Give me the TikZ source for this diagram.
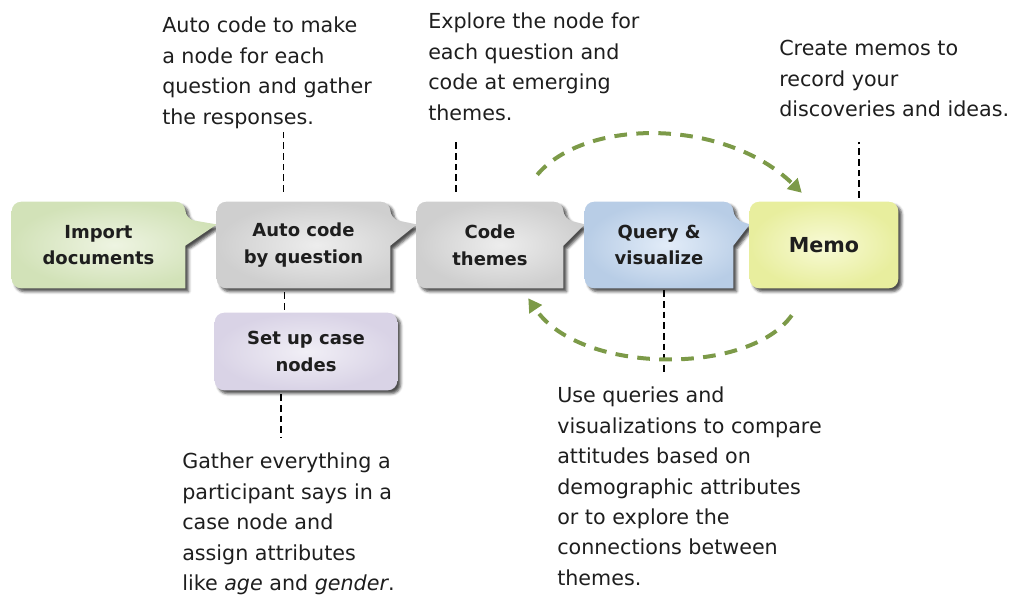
\documentclass[tikz,border=0pt]{standalone}
\usepackage{fontspec}
\setmainfont{DejaVu Sans}
\usetikzlibrary{arrows.meta,backgrounds,shadows.blur}

\definecolor{greenin}{HTML}{EEF4E2}
\definecolor{greenout}{HTML}{D2E2B8}
\definecolor{grayin}{HTML}{EDEDED}
\definecolor{grayout}{HTML}{CFCFCF}
\definecolor{bluein}{HTML}{E2ECF8}
\definecolor{blueout}{HTML}{B8CDE6}
\definecolor{yellowin}{HTML}{F8FAD6}
\definecolor{yellowout}{HTML}{E8EE9E}
\definecolor{purplein}{HTML}{F1EFF6}
\definecolor{purpleout}{HTML}{D9D3E6}
\definecolor{loopgreen}{HTML}{7C9A48}
\definecolor{notetext}{HTML}{1E1E1E}

\tikzset{
  box/.style={minimum width=129.75pt, minimum height=64.5pt, inner sep=0pt,
    align=center, font=\fontsize{13.5}{20}\bfseries\selectfont, text=notetext},
  note/.style={anchor=north west, inner sep=0pt, align=left,
    font=\fontsize{15.5}{22.8}\selectfont, text=notetext},
  guide/.style={line width=0.9pt, dash pattern=on 5pt off 3pt},
  loop/.style={loopgreen, line width=3pt, dash pattern=on 9.5pt off 7pt,
    -{Triangle[length=10pt,width=11pt]}},
  boxshadow/.style={blur shadow={shadow xshift=2.5pt, shadow yshift=-2.5pt,
    shadow blur radius=2pt, shadow opacity=70}},
  greenbox/.style={inner color=greenin, outer color=greenout},
  graybox/.style={inner color=grayin, outer color=grayout},
  bluebox/.style={inner color=bluein, outer color=blueout},
  yellowbox/.style={inner color=yellowin, outer color=yellowout},
  purplebox/.style={inner color=purplein, outer color=purpleout}
}

\begin{document}
\begin{tikzpicture}[x=0.75pt,y=-0.75pt]
  \useasboundingbox (0,0) rectangle (1021,594);

  % steps
  \node[box] (import) at (98.5,245) {Import\\documents};
  \node[box] (auto) at (303.5,245) {Auto code\\by question};
  \node[box, minimum width=109.5pt] (themes) at (490,245) {Code\\themes};
  \node[box, minimum width=111pt] (query) at (659,245) {Query \&\\visualize};
  \node[box, minimum width=111pt, font=\fontsize{15.5}{20}\bfseries\selectfont] (memo) at (824,245) {Memo};
  \node[box, minimum width=136.5pt, minimum height=57.75pt] (cases) at (306,351.5) {Set up case\\nodes};

  \begin{pgfonlayer}{background}
    \foreach \n/\nx/\c in {import/auto/greenbox, auto/themes/graybox, themes/query/graybox, query/memo/bluebox} {
      \shade[\c, boxshadow] [rounded corners=7pt] (\n.north west) -- (\n.north east)
        -- ([yshift=-13pt]\n.north east) [sharp corners] -- ([yshift=-17pt]\nx.north west)
        -- ([yshift=-33pt]\n.north east) -- (\n.south east) [rounded corners=7pt]
        -- (\n.south west) -- cycle;
    }
    \shade[yellowbox, boxshadow, rounded corners=7pt] (memo.north west) rectangle (memo.south east);
    \shade[purplebox, boxshadow, rounded corners=7pt] (cases.north west) rectangle (cases.south east);
  \end{pgfonlayer}

  % notes
  \node[note] (autonote) at (162,17) {Auto code to make\\a node for each\\question and gather\\the responses.};
  \node[note] (themesnote) at (428,13) {Explore the node for\\each question and\\code at emerging\\themes.};
  \node[note] (memonote) at (779,40) {Create memos to\\record your\\discoveries and ideas.};
  \node[note] (casesnote) at (182,453) {Gather everything a\\participant says in a\\case node and\\assign attributes\\like \textit{age} and \textit{gender}.};
  \node[note] (querynote) at (557,387) {Use queries and\\visualizations to compare\\attitudes based on\\demographic attributes\\or to explore the\\connections between\\themes.};

  % guide lines
  \draw[guide] (auto.north) ++(-20,-10) -- ++(0,-60);
  \draw[guide] (themes.north) ++(-34,-10) -- ++(0,-52);
  \draw[guide] (memo.north) ++(35,-4) -- ++(0,-56);
  \draw[guide] (auto.south) ++(-19,4) -- ++(0,20);
  \draw[guide] (cases.south) ++(-25,4) -- ++(0,44);
  \draw[guide] (query.south) ++(5,2) -- ++(0,82);

  % loop arrows
  \draw[loop] ([shift={(-26,-27)}]themes.north east) .. controls +(48,-57) and +(-77,-75) .. ([shift={(52,-9)}]memo.north west);
  \draw[loop] ([shift={(42,27)}]memo.south west) .. controls +(-42,60) and +(52,77) .. ([shift={(-35,10)}]themes.south east);
\end{tikzpicture}
\end{document}
